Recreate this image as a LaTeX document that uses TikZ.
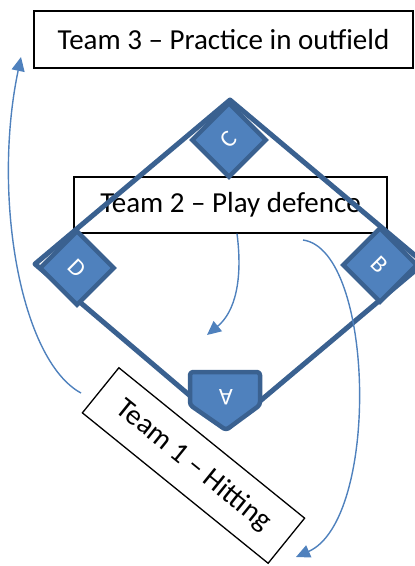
\documentclass[tikz,border=0pt]{standalone}
\usepackage{fontspec}
\setmainfont{Carlito}
\usepackage{tikz}
\usetikzlibrary{arrows.meta}

\definecolor{basefill}{HTML}{4F81BD}
\definecolor{baseedge}{HTML}{3A6190}

\begin{document}
\begin{tikzpicture}[
    x=1pt, y=-1pt,
    teambox/.style={rectangle, draw, line width=1.3pt, fill=white, inner sep=0pt, font=\fontsize{29}{34}\selectfont},
    base/.style={rectangle, draw=baseedge, line width=4.5pt, fill=basefill, minimum size=52pt, inner sep=0pt, text=white, font=\fontsize{24}{28}\selectfont},
    move/.style={-{Triangle[length=14pt,width=13pt]}, draw=basefill, line width=1.4pt}
]
\useasboundingbox (0,0) rectangle (415,566);

% Team boxes
\node[teambox, minimum width=379pt, minimum height=57pt] (team3) at (223.5,39.5) {Team 3 -- Practice in outfield};
\node[teambox, minimum width=313pt, minimum height=56pt] (team2) at (230.5,205) {Team 2 -- Play defence};

% Field lines
\draw[baseedge, line width=5pt, line join=round] (230,100) -- (35,264) -- (228,428) -- (424,263) -- cycle;

% Bases
\node[base, rotate=45] (baseC) at (229,140) {C};
\node[base, rotate=-45] (baseD) at (77,268) {D};
\node[base, rotate=-45] (baseB) at (380,265) {B};
\draw[baseedge, line width=4.5pt, fill=basefill, rounded corners=3pt, line join=round]
    (190,372) -- (260,372) -- (260,405) -- (226,430) -- (190,405) -- cycle;
\node[text=white, font=\fontsize{24}{28}\selectfont, rotate=180] (baseA) at (226,397) {A};

\node[teambox, minimum width=239pt, minimum height=58pt, rotate=-39] (team1) at (193.5,465.5) {Team 1 -- Hitting};

% Moves
\coordinate (f1start) at (81,393);
\coordinate (f1end) at (21,57);
\coordinate (f2end) at (207,335);
\coordinate (f3start) at (303,240);
\coordinate (f3end) at (296,557);
\draw[move] (f1start) .. controls (20,360) and (-8,195) .. (f1end);
\draw[move] ([xshift=6.5pt]team2.south) .. controls (243,280) and (235,312) .. (f2end);
\draw[move] (f3start) .. controls (375,250) and (380,520) .. (f3end);

\end{tikzpicture}
\end{document}
